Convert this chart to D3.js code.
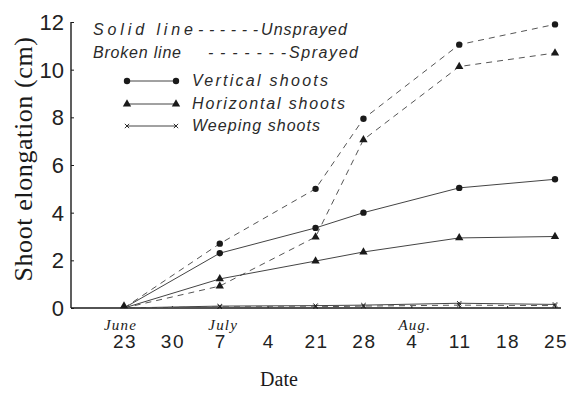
<!DOCTYPE html>
<html>
<head>
<meta charset="utf-8">
<script src="https://cdn.jsdelivr.net/npm/d3@7"></script>
<style>
  html, body { margin: 0; padding: 0; background: #fff; }
  svg { display: block; }
</style>
</head>
<body>
<svg id="chart" width="569" height="397"></svg>
<script>
// Days counted from June 23
const tickDays = [0, 7, 14, 21, 28, 35, 42, 49, 56, 63];
const tickLabels = ["23", "30", "7", "4", "21", "28", "4", "11", "18", "25"];
const months = [{ label: "June", day: -0.5 }, { label: "July", day: 14.5 }, { label: "Aug.", day: 42.5 }];
const yTicks = [0, 2, 4, 6, 8, 10, 12];

const sampleDays = [0, 14, 28, 35, 49, 63];

const verticalUnsprayed = [0, 2.3, 3.36, 4.0, 5.04, 5.4];
const verticalSprayed = [0, 2.7, 5.0, 7.94, 11.05, 11.9];
const horizontalUnsprayed = [0, 1.22, 1.97, 2.35, 2.94, 3.0];
const horizontalSprayed = [0, 0.92, 2.98, 7.06, 10.13, 10.7];
const weepingUnsprayed = [0, 0.08, 0.1, 0.12, 0.2, 0.15];
const weepingSprayed = [0, 0.05, 0.05, 0.08, 0.12, 0.1];

const series = [
  { values: verticalSprayed, marker: "circle", broken: true },
  { values: horizontalSprayed, marker: "triangle", broken: true },
  { values: verticalUnsprayed, marker: "circle", broken: false },
  { values: horizontalUnsprayed, marker: "triangle", broken: false },
  { values: weepingUnsprayed, marker: "cross", broken: false },
  { values: weepingSprayed, marker: "cross", broken: true }
];

const svg = d3.select("#chart");
const x = d3.scaleLinear().domain([0, 63]).range([124, 555]);
const y = d3.scaleLinear().domain([0, 12]).range([308, 22]);

const ink = "#1a1a1a";

// Axes
svg.append("line").attr("x1", 71).attr("x2", 71).attr("y1", y(12)).attr("y2", y(0))
  .attr("stroke", ink).attr("stroke-width", 1.4);
svg.append("line").attr("x1", 71).attr("x2", 561).attr("y1", y(0)).attr("y2", y(0))
  .attr("stroke", ink).attr("stroke-width", 1.4);

const yAxis = d3.axisRight(y).tickValues(yTicks).tickSize(3).tickFormat("");
svg.append("g").attr("transform", "translate(71,0)").call(yAxis)
  .call(g => g.select(".domain").remove())
  .call(g => g.selectAll("line").attr("stroke", ink));

svg.append("g").selectAll("text").data(yTicks).join("text")
  .attr("x", 64).attr("y", d => y(d) + 8)
  .attr("text-anchor", "end")
  .attr("font-family", "Liberation Sans Narrow, Liberation Sans, Arial, sans-serif")
  .attr("font-size", 22).attr("fill", "#222")
  .text(d => d);

const xAxis = d3.axisTop(x).tickValues(tickDays).tickSize(2).tickFormat("");
svg.append("g").attr("transform", `translate(0,${y(0)})`).call(xAxis)
  .call(g => g.select(".domain").remove())
  .call(g => g.selectAll("line").attr("stroke", ink));

svg.append("g").selectAll("text").data(tickDays).join("text")
  .attr("x", d => x(d) + 1).attr("y", 348)
  .attr("text-anchor", "middle")
  .attr("font-family", "Liberation Sans, Arial, sans-serif")
  .attr("font-size", 19).attr("letter-spacing", 1.5).attr("fill", "#222")
  .text((d, i) => tickLabels[i]);

svg.append("g").selectAll("text").data(months).join("text")
  .attr("x", d => x(d.day)).attr("y", 330)
  .attr("text-anchor", "middle")
  .attr("font-family", "Liberation Serif, serif")
  .attr("font-style", "italic")
  .attr("font-size", 15).attr("letter-spacing", 1.2).attr("fill", ink)
  .text(d => d.label);

svg.append("text")
  .attr("x", 279).attr("y", 386)
  .attr("text-anchor", "middle")
  .attr("font-family", "Liberation Serif, serif")
  .attr("font-size", 20).attr("fill", ink)
  .text("Date");

svg.append("text")
  .attr("transform", "translate(32,159) rotate(-90)")
  .attr("text-anchor", "middle")
  .attr("font-family", "Liberation Serif, serif")
  .attr("font-size", 26).attr("letter-spacing", 0.6).attr("fill", ink)
  .text("Shoot elongation (cm)");

// Lines
const line = d3.line().x((d, i) => x(sampleDays[i])).y(d => y(d));

function drawMarker(g, type, cx, cy) {
  if (type === "circle") {
    g.append("circle").attr("cx", cx).attr("cy", cy).attr("r", 3.2).attr("fill", ink);
  } else if (type === "triangle") {
    g.append("path").attr("d", d3.symbol(d3.symbolTriangle, 30)())
      .attr("transform", `translate(${cx},${cy})`).attr("fill", ink);
  } else {
    g.append("path").attr("d", d3.symbol(d3.symbolTimes, 14)())
      .attr("transform", `translate(${cx},${cy})`)
      .attr("fill", "none").attr("stroke", ink).attr("stroke-width", 0.9);
  }
}

series.forEach(s => {
  svg.append("path")
    .datum(s.values)
    .attr("d", line)
    .attr("fill", "none")
    .attr("stroke", s.broken ? "#555" : "#444")
    .attr("stroke-width", 1)
    .attr("stroke-dasharray", s.broken ? "6,5" : null);
  const g = svg.append("g");
  s.values.forEach((v, i) => {
    if (i === 0) return;
    drawMarker(g, s.marker, x(sampleDays[i]), y(v));
  });
});
// shared origin marker
svg.append("path").attr("d", d3.symbol(d3.symbolTriangle, 28)())
  .attr("transform", `translate(${x(0)},${y(0) - 2})`).attr("fill", ink);

// Legend
const legend = svg.append("g")
  .attr("font-family", "Liberation Sans, Arial, sans-serif").attr("font-style", "italic")
  .attr("font-size", 16).attr("fill", "#2a2a2a");

const legendKeyText = [
  { text: "Solid line", x: 93, y: 35, w: 100 },
  { text: "------", x: 198, y: 35, w: 60 },
  { text: "Unsprayed", x: 261, y: 35, w: 86 },
  { text: "Broken line", x: 93, y: 58, w: 88 },
  { text: "-------", x: 208, y: 58, w: 78 },
  { text: "Sprayed", x: 289, y: 58, w: 69 }
];
legendKeyText.forEach(t => {
  legend.append("text").attr("x", t.x).attr("y", t.y)
    .attr("textLength", t.w).attr("lengthAdjust", "spacing").text(t.text);
});

const legendItems = [
  { label: "Vertical shoots", marker: "circle", yPos: 81, w: 136 },
  { label: "Horizontal shoots", marker: "triangle", yPos: 104, w: 153 },
  { label: "Weeping shoots", marker: "cross", yPos: 126, w: 128 }
];
legendItems.forEach(it => {
  svg.append("line").attr("x1", 127).attr("x2", 176).attr("y1", it.yPos).attr("y2", it.yPos)
    .attr("stroke", "#444").attr("stroke-width", 1);
  drawMarker(svg, it.marker, 127, it.yPos);
  drawMarker(svg, it.marker, 176, it.yPos);
  legend.append("text").attr("x", 192).attr("y", it.yPos + 5)
    .attr("textLength", it.w).attr("lengthAdjust", "spacing").text(it.label);
});
</script>
</body>
</html>
